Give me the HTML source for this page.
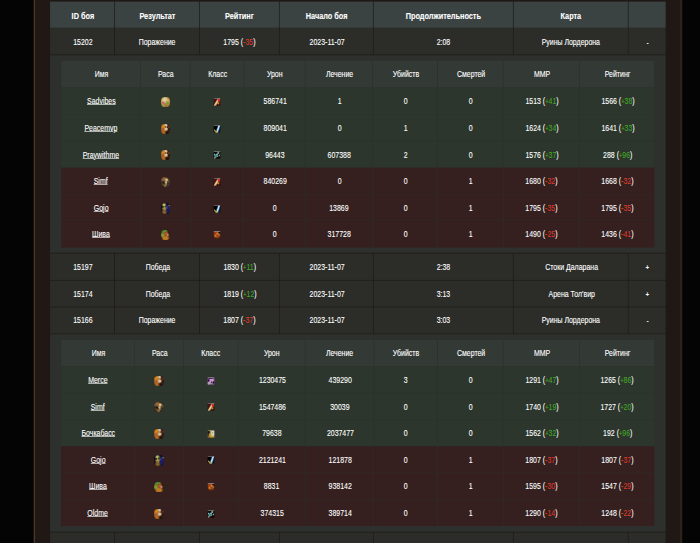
<!DOCTYPE html>
<html><head><meta charset="utf-8"><title>Arena</title><style>
html,body{margin:0;padding:0;background:#040404;}
body{width:700px;height:543px;overflow:hidden;position:relative;font-family:"Liberation Sans",sans-serif;font-size:8.2px;color:#fff;}
.bg{position:absolute;left:0;top:0;display:block}
.c{position:absolute;display:flex;align-items:center;justify-content:center;white-space:nowrap;overflow:visible;}
.t{display:inline-block;transform:translateX(0.5px) scaleX(0.85);line-height:10px;-webkit-text-stroke:0.1px currentColor;}
.t.b{font-weight:bold;transform:translateX(0.3px) scaleX(0.895);}

i{font-style:normal}
s{text-decoration:none;font-size:0.82em;position:relative;top:-0.2px}
s.pm{font-size:6.4px;top:-0.2px;font-weight:bold}
i.g{color:#44a628} i.r{color:#dc3c2a}
u{text-decoration:underline;text-underline-offset:0.35px;text-decoration-thickness:0.5px;text-decoration-color:rgba(255,255,255,.62)}
.ri{display:block;width:9.5px;height:10.2px;border-radius:3.6px;margin-top:2px;margin-left:0.4px;filter:saturate(.95) brightness(.9);}
.ci{display:block;width:8px;height:8px;border-radius:0.8px;margin-top:2px;transform:scale(.9,.95);filter:saturate(.95) brightness(.95);}
.be_f{background:radial-gradient(ellipse at 50% 50%,rgba(0,0,0,0) 60%,rgba(24,12,6,.45) 100%),
 radial-gradient(circle at 40% 26%,#f8e4b0 0 10%,rgba(248,228,176,0) 32%),
 radial-gradient(circle at 74% 62%,#86a838 0 8%,rgba(134,168,56,0) 24%),
 radial-gradient(circle at 60% 42%,#a4b84c 0 4%,rgba(164,184,76,0) 14%),
 radial-gradient(circle at 22% 88%,#98bc44 0 6%,rgba(152,188,68,0) 20%),
 radial-gradient(circle at 26% 10%,#c4c468 0 7%,rgba(196,196,104,0) 22%),
 radial-gradient(circle at 24% 58%,#dc7c68 0 8%,rgba(220,124,104,0) 24%),
 radial-gradient(circle at 48% 66%,#d88c64 0 6%,rgba(216,140,100,0) 20%),
 radial-gradient(circle at 50% 84%,#c47a48 0 10%,rgba(196,122,72,0) 30%),
 radial-gradient(circle at 45% 40%,#f0d080 0 28%,#d89c3c 62%,#9a6424 100%);}
.hu_f{background:radial-gradient(ellipse at 50% 50%,rgba(0,0,0,0) 60%,rgba(24,12,6,.45) 100%),
 radial-gradient(circle at 50% 30%,#5a2a1c 0 3%,rgba(90,42,28,0) 9%),
 radial-gradient(circle at 72% 34%,#4a2418 0 3%,rgba(74,36,24,0) 9%),
 radial-gradient(circle at 56% 50%,#f0d8a4 0 12%,rgba(240,216,164,0) 34%),
 radial-gradient(circle at 56% 12%,#e8dcc8 0 6%,rgba(232,220,200,0) 20%),
 radial-gradient(circle at 30% 46%,#c84838 0 3%,rgba(200,72,56,0) 9%),
 radial-gradient(circle at 24% 16%,#ec9420 0 14%,rgba(236,148,32,0) 38%),
 radial-gradient(circle at 95% 55%,#341a18 0 10%,rgba(52,26,24,0) 30%),
 radial-gradient(circle at 78% 12%,#4a1c14 0 7%,rgba(74,28,20,0) 20%),
 radial-gradient(circle at 72% 88%,#2a1610 0 10%,rgba(42,22,16,0) 30%),
 radial-gradient(circle at 32% 86%,#c87424 0 12%,rgba(200,116,36,0) 32%),
 radial-gradient(circle at 20% 55%,#b8642a 0 12%,rgba(184,100,42,0) 38%),
 #8a4c20;}
.ta{background:radial-gradient(ellipse at 50% 50%,rgba(0,0,0,0) 60%,rgba(24,12,6,.45) 100%),
 radial-gradient(circle at 62% 28%,#e0d4a8 0 8%,rgba(224,212,168,0) 22%),
 radial-gradient(circle at 55% 52%,#d4c494 0 8%,rgba(212,196,148,0) 24%),
 radial-gradient(circle at 58% 70%,#c8a878 0 4%,rgba(200,168,120,0) 14%),
 radial-gradient(circle at 6% 30%,#5a689c 0 3%,rgba(90,104,156,0) 12%),
 radial-gradient(circle at 32% 20%,#b06e2a 0 12%,rgba(176,110,42,0) 32%),
 radial-gradient(circle at 46% 88%,#a07848 0 6%,rgba(160,120,72,0) 18%),
 radial-gradient(circle at 84% 80%,#30466a 0 3%,rgba(48,70,106,0) 12%),
 radial-gradient(circle at 30% 55%,#2a1410 0 8%,rgba(42,20,16,0) 20%),
 radial-gradient(circle at 80% 40%,#6a5430 0 8%,rgba(106,84,48,0) 24%),
 radial-gradient(circle at 30% 70%,#6a5030 0 8%,rgba(106,80,48,0) 24%),
 #46341f;}
.tr{background:radial-gradient(ellipse at 50% 50%,rgba(0,0,0,0) 60%,rgba(24,12,6,.45) 100%),
 radial-gradient(circle at 20% 36%,#2a2410 0 4%,rgba(42,36,16,0) 12%),
 radial-gradient(circle at 46% 30%,#3a3414 0 3%,rgba(58,52,20,0) 10%),
 radial-gradient(circle at 30% 58%,#a04820 0 3%,rgba(160,72,32,0) 8%),
 radial-gradient(circle at 34% 18%,#cccc54 0 8%,rgba(204,204,84,0) 24%),
 radial-gradient(circle at 36% 50%,#b4a434 0 13%,rgba(180,164,52,0) 34%),
 radial-gradient(circle at 36% 84%,#946c1e 0 10%,rgba(148,108,30,0) 30%),
 radial-gradient(circle at 92% 24%,#8a9a30 0 3%,rgba(138,154,48,0) 10%),
 radial-gradient(circle at 66% 38%,#3c3c94 0 6%,rgba(60,60,148,0) 22%),
 radial-gradient(circle at 78% 55%,#1e1e6c 0 24%,rgba(30,30,108,0) 60%),
 #121234;}
.be_m{background:radial-gradient(ellipse at 50% 50%,rgba(0,0,0,0) 60%,rgba(24,12,6,.45) 100%),
 radial-gradient(circle at 75% 48%,#dc9a8a 0 6%,rgba(220,154,138,0) 16%),
 radial-gradient(circle at 58% 38%,#cc6228 0 12%,rgba(204,98,40,0) 32%),
 radial-gradient(circle at 52% 58%,#a02818 0 4%,rgba(160,40,24,0) 12%),
 radial-gradient(circle at 46% 24%,#3a3a14 0 3%,rgba(58,58,20,0) 9%),
 radial-gradient(circle at 35% 12%,#6a9830 0 16%,rgba(106,152,48,0) 40%),
 radial-gradient(circle at 18% 50%,#9ca830 0 12%,rgba(156,168,48,0) 34%),
 radial-gradient(circle at 50% 84%,#d88624 0 20%,rgba(216,134,36,0) 50%),
 #3a2414;}
.red{background:linear-gradient(#a8a0a8,#a8a0a8) 0 0/100% 0.7px no-repeat,
 radial-gradient(circle at 78% 26%,#e42a2a 0 10%,rgba(228,42,42,0) 25%),
 linear-gradient(122deg,rgba(0,0,0,0) 34%,#f6e2b4 46%,#e8c066 54%,rgba(0,0,0,0) 65%),
 radial-gradient(circle at 68% 66%,#c88a2a 0 7%,rgba(200,138,42,0) 22%),
 radial-gradient(circle at 50% 50%,#5a1410 0 40%,#240a06 100%);}
.swd{background:linear-gradient(#a0a6aa,#a0a6aa) 0 0/100% 0.7px no-repeat,
 radial-gradient(circle at 32% 84%,#d89c22 0 6%,rgba(216,156,34,0) 18%),
 radial-gradient(circle at 18% 66%,#a0b03c 0 4%,rgba(160,176,60,0) 13%),
 radial-gradient(circle at 58% 90%,#b0b838 0 4%,rgba(176,184,56,0) 13%),
 linear-gradient(110deg,rgba(0,0,0,0) 42%,#2a6aa8 50%,#d8ecfa 57%,#d8ecfa 64%,#2a6aa8 72%,rgba(0,0,0,0) 80%),
 linear-gradient(160deg,#000 0 45%,#0c1a2c 70%,#0a1420 100%);}
.gry{background:linear-gradient(#a4aca4,#a4aca4) 0 0/100% 0.8px no-repeat,
 radial-gradient(circle at 50% 45%,#4cc4cc 0 10%,rgba(76,196,204,0) 28%),
 radial-gradient(circle at 32% 68%,#44b0b8 0 9%,rgba(68,176,184,0) 24%),
 radial-gradient(circle at 18% 45%,#9cbcb0 0 6%,rgba(156,188,176,0) 18%),
 radial-gradient(circle at 60% 66%,#c49478 0 5%,rgba(196,148,120,0) 15%),
 radial-gradient(circle at 18% 90%,#c09078 0 5%,rgba(192,144,120,0) 16%),
 radial-gradient(circle at 84% 56%,#a8a890 0 5%,rgba(168,168,144,0) 16%),
 radial-gradient(circle at 68% 24%,#8ca8a0 0 7%,rgba(140,168,160,0) 20%),
 #0a0808;}
.org{background:linear-gradient(#c4bcbc,#c4bcbc) 0 0/100% 0.8px no-repeat,
 radial-gradient(circle at 25% 30%,#c83418 0 7%,rgba(200,52,24,0) 20%),
 radial-gradient(circle at 55% 58%,#c03018 0 6%,rgba(192,48,24,0) 18%),
 radial-gradient(circle at 55% 32%,#d48824 0 8%,rgba(212,136,36,0) 24%),
 radial-gradient(circle at 30% 62%,#cc8424 0 7%,rgba(204,132,36,0) 22%),
 radial-gradient(circle at 80% 48%,#b86420 0 8%,rgba(184,100,32,0) 24%),
 radial-gradient(circle at 88% 18%,#101008 0 8%,rgba(16,16,8,0) 20%),
 radial-gradient(circle at 50% 42%,#a84c18 0 40%,#3a1208 92%);}
.pur{background:linear-gradient(#8c9c8c,#8c9c8c) 0 0/100% 0.8px no-repeat,
 radial-gradient(circle at 86% 70%,#2c0c34 0 8%,rgba(44,12,52,0) 20%),
 radial-gradient(circle at 58% 66%,#4a2a50 0 6%,rgba(74,42,80,0) 16%),
 linear-gradient(172deg,rgba(0,0,0,0) 12%,#4a1858 20%,rgba(0,0,0,0) 30%),
 radial-gradient(circle at 14% 42%,#3c1248 0 9%,rgba(60,18,72,0) 24%),
 radial-gradient(circle at 14% 84%,#aabcaa 0 9%,rgba(170,188,170,0) 24%),
 radial-gradient(circle at 50% 45%,#d4a0dc 0 30%,#a868b4 70%,#8a5094 100%);}
.tan{background:linear-gradient(#b0b0a0,#b0b0a0) 0 0/100% 0.7px no-repeat,
 radial-gradient(circle at 16% 26%,#1c1a14 0 9%,rgba(28,26,20,0) 26%),
 radial-gradient(circle at 76% 36%,#6a8a4a 0 4%,rgba(106,138,74,0) 11%),
 linear-gradient(90deg,#3a3424 0 14%,#cca02a 30% 46%,#dcdcd0 60% 92%,#b0b0a0 100%) 0 0/100% 72% no-repeat,
 linear-gradient(90deg,#8a6a3a 0 20%,#d8a42c 40% 100%);}

</style></head>
<body><svg class="bg" width="700" height="543" viewBox="0 0 700 543">
<rect x="33.7" y="0" width="648.4" height="543" fill="#4a382b"/>
<rect x="680.2" y="0" width="1.9" height="543" fill="#2f231c"/>
<rect x="35.1" y="0" width="645.2" height="543" fill="#201814"/>
<rect x="49.7" y="1.6" width="616.3" height="545" fill="#1f1916"/>
<rect x="50.03" y="1.60" width="64.23" height="26.25" fill="#3a4341"/>
<rect x="114.93" y="1.60" width="84.13" height="26.25" fill="#3a4341"/>
<rect x="199.73" y="1.60" width="79.23" height="26.25" fill="#3a4341"/>
<rect x="279.63" y="1.60" width="93.33" height="26.25" fill="#3a4341"/>
<rect x="373.63" y="1.60" width="139.33" height="26.25" fill="#3a4341"/>
<rect x="513.63" y="1.60" width="114.23" height="26.25" fill="#3a4341"/>
<rect x="628.53" y="1.60" width="37.13" height="26.25" fill="#3a4341"/>
<rect x="50.03" y="27.85" width="64.23" height="26.70" fill="#2c2d29"/>
<rect x="114.93" y="27.85" width="84.13" height="26.70" fill="#2c2d29"/>
<rect x="199.73" y="27.85" width="79.23" height="26.70" fill="#2c2d29"/>
<rect x="279.63" y="27.85" width="93.33" height="26.70" fill="#2c2d29"/>
<rect x="373.63" y="27.85" width="139.33" height="26.70" fill="#2c2d29"/>
<rect x="513.63" y="27.85" width="114.23" height="26.70" fill="#2c2d29"/>
<rect x="628.53" y="27.85" width="37.13" height="26.70" fill="#2c2d29"/>
<rect x="50.03" y="55.25" width="615.63" height="197.55" fill="#2d302c"/>
<rect x="61.30" y="61.00" width="78.70" height="26.47" fill="#333935"/>
<rect x="140.60" y="61.00" width="49.30" height="26.47" fill="#333935"/>
<rect x="190.50" y="61.00" width="53.00" height="26.47" fill="#333935"/>
<rect x="244.10" y="61.00" width="60.80" height="26.47" fill="#333935"/>
<rect x="305.50" y="61.00" width="66.80" height="26.47" fill="#333935"/>
<rect x="372.90" y="61.00" width="64.40" height="26.47" fill="#333935"/>
<rect x="437.90" y="61.00" width="65.00" height="26.47" fill="#333935"/>
<rect x="503.50" y="61.00" width="75.70" height="26.47" fill="#333935"/>
<rect x="579.80" y="61.00" width="74.50" height="26.47" fill="#333935"/>
<rect x="61.30" y="87.81" width="78.70" height="26.30" fill="#2c362c"/>
<rect x="140.60" y="87.81" width="49.30" height="26.30" fill="#2c362c"/>
<rect x="190.50" y="87.81" width="53.00" height="26.30" fill="#2c362c"/>
<rect x="244.10" y="87.81" width="60.80" height="26.30" fill="#2c362c"/>
<rect x="305.50" y="87.81" width="66.80" height="26.30" fill="#2c362c"/>
<rect x="372.90" y="87.81" width="64.40" height="26.30" fill="#2c362c"/>
<rect x="437.90" y="87.81" width="65.00" height="26.30" fill="#2c362c"/>
<rect x="503.50" y="87.81" width="75.70" height="26.30" fill="#2c362c"/>
<rect x="579.80" y="87.81" width="74.50" height="26.30" fill="#2c362c"/>
<rect x="61.30" y="114.46" width="78.70" height="26.30" fill="#2c362c"/>
<rect x="140.60" y="114.46" width="49.30" height="26.30" fill="#2c362c"/>
<rect x="190.50" y="114.46" width="53.00" height="26.30" fill="#2c362c"/>
<rect x="244.10" y="114.46" width="60.80" height="26.30" fill="#2c362c"/>
<rect x="305.50" y="114.46" width="66.80" height="26.30" fill="#2c362c"/>
<rect x="372.90" y="114.46" width="64.40" height="26.30" fill="#2c362c"/>
<rect x="437.90" y="114.46" width="65.00" height="26.30" fill="#2c362c"/>
<rect x="503.50" y="114.46" width="75.70" height="26.30" fill="#2c362c"/>
<rect x="579.80" y="114.46" width="74.50" height="26.30" fill="#2c362c"/>
<rect x="61.30" y="141.10" width="78.70" height="26.30" fill="#2c362c"/>
<rect x="140.60" y="141.10" width="49.30" height="26.30" fill="#2c362c"/>
<rect x="190.50" y="141.10" width="53.00" height="26.30" fill="#2c362c"/>
<rect x="244.10" y="141.10" width="60.80" height="26.30" fill="#2c362c"/>
<rect x="305.50" y="141.10" width="66.80" height="26.30" fill="#2c362c"/>
<rect x="372.90" y="141.10" width="64.40" height="26.30" fill="#2c362c"/>
<rect x="437.90" y="141.10" width="65.00" height="26.30" fill="#2c362c"/>
<rect x="503.50" y="141.10" width="75.70" height="26.30" fill="#2c362c"/>
<rect x="579.80" y="141.10" width="74.50" height="26.30" fill="#2c362c"/>
<rect x="61.30" y="167.74" width="78.70" height="26.30" fill="#351f1f"/>
<rect x="140.60" y="167.74" width="49.30" height="26.30" fill="#351f1f"/>
<rect x="190.50" y="167.74" width="53.00" height="26.30" fill="#351f1f"/>
<rect x="244.10" y="167.74" width="60.80" height="26.30" fill="#351f1f"/>
<rect x="305.50" y="167.74" width="66.80" height="26.30" fill="#351f1f"/>
<rect x="372.90" y="167.74" width="64.40" height="26.30" fill="#351f1f"/>
<rect x="437.90" y="167.74" width="65.00" height="26.30" fill="#351f1f"/>
<rect x="503.50" y="167.74" width="75.70" height="26.30" fill="#351f1f"/>
<rect x="579.80" y="167.74" width="74.50" height="26.30" fill="#351f1f"/>
<rect x="61.30" y="194.38" width="78.70" height="26.30" fill="#351f1f"/>
<rect x="140.60" y="194.38" width="49.30" height="26.30" fill="#351f1f"/>
<rect x="190.50" y="194.38" width="53.00" height="26.30" fill="#351f1f"/>
<rect x="244.10" y="194.38" width="60.80" height="26.30" fill="#351f1f"/>
<rect x="305.50" y="194.38" width="66.80" height="26.30" fill="#351f1f"/>
<rect x="372.90" y="194.38" width="64.40" height="26.30" fill="#351f1f"/>
<rect x="437.90" y="194.38" width="65.00" height="26.30" fill="#351f1f"/>
<rect x="503.50" y="194.38" width="75.70" height="26.30" fill="#351f1f"/>
<rect x="579.80" y="194.38" width="74.50" height="26.30" fill="#351f1f"/>
<rect x="61.30" y="221.03" width="78.70" height="26.47" fill="#351f1f"/>
<rect x="140.60" y="221.03" width="49.30" height="26.47" fill="#351f1f"/>
<rect x="190.50" y="221.03" width="53.00" height="26.47" fill="#351f1f"/>
<rect x="244.10" y="221.03" width="60.80" height="26.47" fill="#351f1f"/>
<rect x="305.50" y="221.03" width="66.80" height="26.47" fill="#351f1f"/>
<rect x="372.90" y="221.03" width="64.40" height="26.47" fill="#351f1f"/>
<rect x="437.90" y="221.03" width="65.00" height="26.47" fill="#351f1f"/>
<rect x="503.50" y="221.03" width="75.70" height="26.47" fill="#351f1f"/>
<rect x="579.80" y="221.03" width="74.50" height="26.47" fill="#351f1f"/>
<rect x="50.03" y="253.50" width="64.23" height="26.40" fill="#2c2d29"/>
<rect x="114.93" y="253.50" width="84.13" height="26.40" fill="#2c2d29"/>
<rect x="199.73" y="253.50" width="79.23" height="26.40" fill="#2c2d29"/>
<rect x="279.63" y="253.50" width="93.33" height="26.40" fill="#2c2d29"/>
<rect x="373.63" y="253.50" width="139.33" height="26.40" fill="#2c2d29"/>
<rect x="513.63" y="253.50" width="114.23" height="26.40" fill="#2c2d29"/>
<rect x="628.53" y="253.50" width="37.13" height="26.40" fill="#2c2d29"/>
<rect x="50.03" y="280.60" width="64.23" height="26.00" fill="#2c2d29"/>
<rect x="114.93" y="280.60" width="84.13" height="26.00" fill="#2c2d29"/>
<rect x="199.73" y="280.60" width="79.23" height="26.00" fill="#2c2d29"/>
<rect x="279.63" y="280.60" width="93.33" height="26.00" fill="#2c2d29"/>
<rect x="373.63" y="280.60" width="139.33" height="26.00" fill="#2c2d29"/>
<rect x="513.63" y="280.60" width="114.23" height="26.00" fill="#2c2d29"/>
<rect x="628.53" y="280.60" width="37.13" height="26.00" fill="#2c2d29"/>
<rect x="50.03" y="307.30" width="64.23" height="26.20" fill="#2c2d29"/>
<rect x="114.93" y="307.30" width="84.13" height="26.20" fill="#2c2d29"/>
<rect x="199.73" y="307.30" width="79.23" height="26.20" fill="#2c2d29"/>
<rect x="279.63" y="307.30" width="93.33" height="26.20" fill="#2c2d29"/>
<rect x="373.63" y="307.30" width="139.33" height="26.20" fill="#2c2d29"/>
<rect x="513.63" y="307.30" width="114.23" height="26.20" fill="#2c2d29"/>
<rect x="628.53" y="307.30" width="37.13" height="26.20" fill="#2c2d29"/>
<rect x="50.03" y="334.20" width="615.63" height="197.55" fill="#2d302c"/>
<rect x="61.10" y="339.75" width="72.90" height="26.44" fill="#333935"/>
<rect x="134.60" y="339.75" width="48.40" height="26.44" fill="#333935"/>
<rect x="183.60" y="339.75" width="54.10" height="26.44" fill="#333935"/>
<rect x="238.30" y="339.75" width="66.60" height="26.44" fill="#333935"/>
<rect x="305.50" y="339.75" width="68.00" height="26.44" fill="#333935"/>
<rect x="374.10" y="339.75" width="63.20" height="26.44" fill="#333935"/>
<rect x="437.90" y="339.75" width="65.00" height="26.44" fill="#333935"/>
<rect x="503.50" y="339.75" width="75.50" height="26.44" fill="#333935"/>
<rect x="579.60" y="339.75" width="74.70" height="26.44" fill="#333935"/>
<rect x="61.10" y="366.53" width="72.90" height="26.27" fill="#2c362c"/>
<rect x="134.60" y="366.53" width="48.40" height="26.27" fill="#2c362c"/>
<rect x="183.60" y="366.53" width="54.10" height="26.27" fill="#2c362c"/>
<rect x="238.30" y="366.53" width="66.60" height="26.27" fill="#2c362c"/>
<rect x="305.50" y="366.53" width="68.00" height="26.27" fill="#2c362c"/>
<rect x="374.10" y="366.53" width="63.20" height="26.27" fill="#2c362c"/>
<rect x="437.90" y="366.53" width="65.00" height="26.27" fill="#2c362c"/>
<rect x="503.50" y="366.53" width="75.50" height="26.27" fill="#2c362c"/>
<rect x="579.60" y="366.53" width="74.70" height="26.27" fill="#2c362c"/>
<rect x="61.10" y="393.13" width="72.90" height="26.27" fill="#2c362c"/>
<rect x="134.60" y="393.13" width="48.40" height="26.27" fill="#2c362c"/>
<rect x="183.60" y="393.13" width="54.10" height="26.27" fill="#2c362c"/>
<rect x="238.30" y="393.13" width="66.60" height="26.27" fill="#2c362c"/>
<rect x="305.50" y="393.13" width="68.00" height="26.27" fill="#2c362c"/>
<rect x="374.10" y="393.13" width="63.20" height="26.27" fill="#2c362c"/>
<rect x="437.90" y="393.13" width="65.00" height="26.27" fill="#2c362c"/>
<rect x="503.50" y="393.13" width="75.50" height="26.27" fill="#2c362c"/>
<rect x="579.60" y="393.13" width="74.70" height="26.27" fill="#2c362c"/>
<rect x="61.10" y="419.74" width="72.90" height="26.27" fill="#2c362c"/>
<rect x="134.60" y="419.74" width="48.40" height="26.27" fill="#2c362c"/>
<rect x="183.60" y="419.74" width="54.10" height="26.27" fill="#2c362c"/>
<rect x="238.30" y="419.74" width="66.60" height="26.27" fill="#2c362c"/>
<rect x="305.50" y="419.74" width="68.00" height="26.27" fill="#2c362c"/>
<rect x="374.10" y="419.74" width="63.20" height="26.27" fill="#2c362c"/>
<rect x="437.90" y="419.74" width="65.00" height="26.27" fill="#2c362c"/>
<rect x="503.50" y="419.74" width="75.50" height="26.27" fill="#2c362c"/>
<rect x="579.60" y="419.74" width="74.70" height="26.27" fill="#2c362c"/>
<rect x="61.10" y="446.35" width="72.90" height="26.27" fill="#351f1f"/>
<rect x="134.60" y="446.35" width="48.40" height="26.27" fill="#351f1f"/>
<rect x="183.60" y="446.35" width="54.10" height="26.27" fill="#351f1f"/>
<rect x="238.30" y="446.35" width="66.60" height="26.27" fill="#351f1f"/>
<rect x="305.50" y="446.35" width="68.00" height="26.27" fill="#351f1f"/>
<rect x="374.10" y="446.35" width="63.20" height="26.27" fill="#351f1f"/>
<rect x="437.90" y="446.35" width="65.00" height="26.27" fill="#351f1f"/>
<rect x="503.50" y="446.35" width="75.50" height="26.27" fill="#351f1f"/>
<rect x="579.60" y="446.35" width="74.70" height="26.27" fill="#351f1f"/>
<rect x="61.10" y="472.96" width="72.90" height="26.27" fill="#351f1f"/>
<rect x="134.60" y="472.96" width="48.40" height="26.27" fill="#351f1f"/>
<rect x="183.60" y="472.96" width="54.10" height="26.27" fill="#351f1f"/>
<rect x="238.30" y="472.96" width="66.60" height="26.27" fill="#351f1f"/>
<rect x="305.50" y="472.96" width="68.00" height="26.27" fill="#351f1f"/>
<rect x="374.10" y="472.96" width="63.20" height="26.27" fill="#351f1f"/>
<rect x="437.90" y="472.96" width="65.00" height="26.27" fill="#351f1f"/>
<rect x="503.50" y="472.96" width="75.50" height="26.27" fill="#351f1f"/>
<rect x="579.60" y="472.96" width="74.70" height="26.27" fill="#351f1f"/>
<rect x="61.10" y="499.56" width="72.90" height="26.44" fill="#351f1f"/>
<rect x="134.60" y="499.56" width="48.40" height="26.44" fill="#351f1f"/>
<rect x="183.60" y="499.56" width="54.10" height="26.44" fill="#351f1f"/>
<rect x="238.30" y="499.56" width="66.60" height="26.44" fill="#351f1f"/>
<rect x="305.50" y="499.56" width="68.00" height="26.44" fill="#351f1f"/>
<rect x="374.10" y="499.56" width="63.20" height="26.44" fill="#351f1f"/>
<rect x="437.90" y="499.56" width="65.00" height="26.44" fill="#351f1f"/>
<rect x="503.50" y="499.56" width="75.50" height="26.44" fill="#351f1f"/>
<rect x="579.60" y="499.56" width="74.70" height="26.44" fill="#351f1f"/>
<rect x="50.03" y="532.45" width="64.23" height="27.55" fill="#2c2d29"/>
<rect x="114.93" y="532.45" width="84.13" height="27.55" fill="#2c2d29"/>
<rect x="199.73" y="532.45" width="79.23" height="27.55" fill="#2c2d29"/>
<rect x="279.63" y="532.45" width="93.33" height="27.55" fill="#2c2d29"/>
<rect x="373.63" y="532.45" width="139.33" height="27.55" fill="#2c2d29"/>
<rect x="513.63" y="532.45" width="114.23" height="27.55" fill="#2c2d29"/>
<rect x="628.53" y="532.45" width="37.13" height="27.55" fill="#2c2d29"/>
</svg>
<div class="c" style="left:49.70px;top:12px;width:64.90px;height:10px"><span class="t b">ID боя</span></div>
<div class="c" style="left:114.60px;top:12px;width:84.80px;height:10px"><span class="t b">Результат</span></div>
<div class="c" style="left:199.40px;top:12px;width:79.90px;height:10px"><span class="t b">Рейтинг</span></div>
<div class="c" style="left:279.30px;top:12px;width:94.00px;height:10px"><span class="t b">Начало боя</span></div>
<div class="c" style="left:373.30px;top:12px;width:140.00px;height:10px"><span class="t b">Продолжительность</span></div>
<div class="c" style="left:513.30px;top:12px;width:114.90px;height:10px"><span class="t b">Карта</span></div>
<div class="c" style="left:49.70px;top:38px;width:64.90px;height:10px"><span class="t">15202</span></div>
<div class="c" style="left:114.60px;top:38px;width:84.80px;height:10px"><span class="t">Поражение</span></div>
<div class="c" style="left:199.40px;top:38px;width:79.90px;height:10px"><span class="t">1795 (<i class="r">-35</i>)</span></div>
<div class="c" style="left:279.30px;top:38px;width:94.00px;height:10px"><span class="t">2023-11-07</span></div>
<div class="c" style="left:373.30px;top:38px;width:140.00px;height:10px"><span class="t">2:08</span></div>
<div class="c" style="left:513.30px;top:38px;width:114.90px;height:10px"><span class="t">Руины Лордерона</span></div>
<div class="c" style="left:628.20px;top:38px;width:37.80px;height:10px"><span class="t"><s class="pm">-</s></span></div>
<div class="c" style="left:61.00px;top:70px;width:79.30px;height:10px"><span class="t">Имя</span></div>
<div class="c" style="left:140.30px;top:70px;width:49.90px;height:10px"><span class="t">Раса</span></div>
<div class="c" style="left:190.20px;top:70px;width:53.60px;height:10px"><span class="t">Класс</span></div>
<div class="c" style="left:243.80px;top:70px;width:61.40px;height:10px"><span class="t">Урон</span></div>
<div class="c" style="left:305.20px;top:70px;width:67.40px;height:10px"><span class="t">Лечение</span></div>
<div class="c" style="left:372.60px;top:70px;width:65.00px;height:10px"><span class="t">Убийств</span></div>
<div class="c" style="left:437.60px;top:70px;width:65.60px;height:10px"><span class="t">Смертей</span></div>
<div class="c" style="left:503.20px;top:70px;width:76.30px;height:10px"><span class="t">MMP</span></div>
<div class="c" style="left:579.50px;top:70px;width:75.10px;height:10px"><span class="t">Рейтинг</span></div>
<div class="c" style="left:61.00px;top:97px;width:79.30px;height:10px"><span class="t"><u>Sadvibes</u></span></div>
<div class="c" style="left:140.30px;top:87.81px;width:49.90px;height:26.30px"><b class="ri be_f"></b></div>
<div class="c" style="left:190.20px;top:87.81px;width:53.60px;height:26.30px"><b class="ci red"></b></div>
<div class="c" style="left:243.80px;top:97px;width:61.40px;height:10px"><span class="t">586741</span></div>
<div class="c" style="left:305.20px;top:97px;width:67.40px;height:10px"><span class="t">1</span></div>
<div class="c" style="left:372.60px;top:97px;width:65.00px;height:10px"><span class="t">0</span></div>
<div class="c" style="left:437.60px;top:97px;width:65.60px;height:10px"><span class="t">0</span></div>
<div class="c" style="left:503.20px;top:97px;width:76.30px;height:10px"><span class="t">1513 (<i class="g"><s>+</s>41</i>)</span></div>
<div class="c" style="left:579.50px;top:97px;width:75.10px;height:10px"><span class="t">1566 (<i class="g"><s>+</s>38</i>)</span></div>
<div class="c" style="left:61.00px;top:124px;width:79.30px;height:10px"><span class="t"><u>Peacemvp</u></span></div>
<div class="c" style="left:140.30px;top:114.46px;width:49.90px;height:26.30px"><b class="ri hu_f"></b></div>
<div class="c" style="left:190.20px;top:114.46px;width:53.60px;height:26.30px"><b class="ci swd"></b></div>
<div class="c" style="left:243.80px;top:124px;width:61.40px;height:10px"><span class="t">809041</span></div>
<div class="c" style="left:305.20px;top:124px;width:67.40px;height:10px"><span class="t">0</span></div>
<div class="c" style="left:372.60px;top:124px;width:65.00px;height:10px"><span class="t">1</span></div>
<div class="c" style="left:437.60px;top:124px;width:65.60px;height:10px"><span class="t">0</span></div>
<div class="c" style="left:503.20px;top:124px;width:76.30px;height:10px"><span class="t">1624 (<i class="g"><s>+</s>34</i>)</span></div>
<div class="c" style="left:579.50px;top:124px;width:75.10px;height:10px"><span class="t">1641 (<i class="g"><s>+</s>33</i>)</span></div>
<div class="c" style="left:61.00px;top:151px;width:79.30px;height:10px"><span class="t"><u>Praywithme</u></span></div>
<div class="c" style="left:140.30px;top:141.10px;width:49.90px;height:26.30px"><b class="ri hu_f"></b></div>
<div class="c" style="left:190.20px;top:141.10px;width:53.60px;height:26.30px"><b class="ci gry"></b></div>
<div class="c" style="left:243.80px;top:151px;width:61.40px;height:10px"><span class="t">96443</span></div>
<div class="c" style="left:305.20px;top:151px;width:67.40px;height:10px"><span class="t">607388</span></div>
<div class="c" style="left:372.60px;top:151px;width:65.00px;height:10px"><span class="t">2</span></div>
<div class="c" style="left:437.60px;top:151px;width:65.60px;height:10px"><span class="t">0</span></div>
<div class="c" style="left:503.20px;top:151px;width:76.30px;height:10px"><span class="t">1576 (<i class="g"><s>+</s>37</i>)</span></div>
<div class="c" style="left:579.50px;top:151px;width:75.10px;height:10px"><span class="t">288 (<i class="g"><s>+</s>96</i>)</span></div>
<div class="c" style="left:61.00px;top:177px;width:79.30px;height:10px"><span class="t"><u>Simf</u></span></div>
<div class="c" style="left:140.30px;top:167.74px;width:49.90px;height:26.30px"><b class="ri ta"></b></div>
<div class="c" style="left:190.20px;top:167.74px;width:53.60px;height:26.30px"><b class="ci red"></b></div>
<div class="c" style="left:243.80px;top:177px;width:61.40px;height:10px"><span class="t">840269</span></div>
<div class="c" style="left:305.20px;top:177px;width:67.40px;height:10px"><span class="t">0</span></div>
<div class="c" style="left:372.60px;top:177px;width:65.00px;height:10px"><span class="t">0</span></div>
<div class="c" style="left:437.60px;top:177px;width:65.60px;height:10px"><span class="t">1</span></div>
<div class="c" style="left:503.20px;top:177px;width:76.30px;height:10px"><span class="t">1680 (<i class="r">-32</i>)</span></div>
<div class="c" style="left:579.50px;top:177px;width:75.10px;height:10px"><span class="t">1668 (<i class="r">-32</i>)</span></div>
<div class="c" style="left:61.00px;top:204px;width:79.30px;height:10px"><span class="t"><u>Gojo</u></span></div>
<div class="c" style="left:140.30px;top:194.38px;width:49.90px;height:26.30px"><b class="ri tr"></b></div>
<div class="c" style="left:190.20px;top:194.38px;width:53.60px;height:26.30px"><b class="ci swd"></b></div>
<div class="c" style="left:243.80px;top:204px;width:61.40px;height:10px"><span class="t">0</span></div>
<div class="c" style="left:305.20px;top:204px;width:67.40px;height:10px"><span class="t">13869</span></div>
<div class="c" style="left:372.60px;top:204px;width:65.00px;height:10px"><span class="t">0</span></div>
<div class="c" style="left:437.60px;top:204px;width:65.60px;height:10px"><span class="t">1</span></div>
<div class="c" style="left:503.20px;top:204px;width:76.30px;height:10px"><span class="t">1795 (<i class="r">-35</i>)</span></div>
<div class="c" style="left:579.50px;top:204px;width:75.10px;height:10px"><span class="t">1795 (<i class="r">-35</i>)</span></div>
<div class="c" style="left:61.00px;top:230px;width:79.30px;height:10px"><span class="t"><u>Шива</u></span></div>
<div class="c" style="left:140.30px;top:221.03px;width:49.90px;height:26.47px"><b class="ri be_m"></b></div>
<div class="c" style="left:190.20px;top:221.03px;width:53.60px;height:26.47px"><b class="ci org"></b></div>
<div class="c" style="left:243.80px;top:230px;width:61.40px;height:10px"><span class="t">0</span></div>
<div class="c" style="left:305.20px;top:230px;width:67.40px;height:10px"><span class="t">317728</span></div>
<div class="c" style="left:372.60px;top:230px;width:65.00px;height:10px"><span class="t">0</span></div>
<div class="c" style="left:437.60px;top:230px;width:65.60px;height:10px"><span class="t">1</span></div>
<div class="c" style="left:503.20px;top:230px;width:76.30px;height:10px"><span class="t">1490 (<i class="r">-25</i>)</span></div>
<div class="c" style="left:579.50px;top:230px;width:75.10px;height:10px"><span class="t">1436 (<i class="r">-41</i>)</span></div>
<div class="c" style="left:49.70px;top:263px;width:64.90px;height:10px"><span class="t">15197</span></div>
<div class="c" style="left:114.60px;top:263px;width:84.80px;height:10px"><span class="t">Победа</span></div>
<div class="c" style="left:199.40px;top:263px;width:79.90px;height:10px"><span class="t">1830 (<i class="g"><s>+</s>11</i>)</span></div>
<div class="c" style="left:279.30px;top:263px;width:94.00px;height:10px"><span class="t">2023-11-07</span></div>
<div class="c" style="left:373.30px;top:263px;width:140.00px;height:10px"><span class="t">2:38</span></div>
<div class="c" style="left:513.30px;top:263px;width:114.90px;height:10px"><span class="t">Стоки Даларана</span></div>
<div class="c" style="left:628.20px;top:263px;width:37.80px;height:10px"><span class="t"><s class="pm">+</s></span></div>
<div class="c" style="left:49.70px;top:290px;width:64.90px;height:10px"><span class="t">15174</span></div>
<div class="c" style="left:114.60px;top:290px;width:84.80px;height:10px"><span class="t">Победа</span></div>
<div class="c" style="left:199.40px;top:290px;width:79.90px;height:10px"><span class="t">1819 (<i class="g"><s>+</s>12</i>)</span></div>
<div class="c" style="left:279.30px;top:290px;width:94.00px;height:10px"><span class="t">2023-11-07</span></div>
<div class="c" style="left:373.30px;top:290px;width:140.00px;height:10px"><span class="t">3:13</span></div>
<div class="c" style="left:513.30px;top:290px;width:114.90px;height:10px"><span class="t">Арена Тол'вир</span></div>
<div class="c" style="left:628.20px;top:290px;width:37.80px;height:10px"><span class="t"><s class="pm">+</s></span></div>
<div class="c" style="left:49.70px;top:316px;width:64.90px;height:10px"><span class="t">15166</span></div>
<div class="c" style="left:114.60px;top:316px;width:84.80px;height:10px"><span class="t">Поражение</span></div>
<div class="c" style="left:199.40px;top:316px;width:79.90px;height:10px"><span class="t">1807 (<i class="r">-37</i>)</span></div>
<div class="c" style="left:279.30px;top:316px;width:94.00px;height:10px"><span class="t">2023-11-07</span></div>
<div class="c" style="left:373.30px;top:316px;width:140.00px;height:10px"><span class="t">3:03</span></div>
<div class="c" style="left:513.30px;top:316px;width:114.90px;height:10px"><span class="t">Руины Лордерона</span></div>
<div class="c" style="left:628.20px;top:316px;width:37.80px;height:10px"><span class="t"><s class="pm">-</s></span></div>
<div class="c" style="left:60.80px;top:349px;width:73.50px;height:10px"><span class="t">Имя</span></div>
<div class="c" style="left:134.30px;top:349px;width:49.00px;height:10px"><span class="t">Раса</span></div>
<div class="c" style="left:183.30px;top:349px;width:54.70px;height:10px"><span class="t">Класс</span></div>
<div class="c" style="left:238.00px;top:349px;width:67.20px;height:10px"><span class="t">Урон</span></div>
<div class="c" style="left:305.20px;top:349px;width:68.60px;height:10px"><span class="t">Лечение</span></div>
<div class="c" style="left:373.80px;top:349px;width:63.80px;height:10px"><span class="t">Убийств</span></div>
<div class="c" style="left:437.60px;top:349px;width:65.60px;height:10px"><span class="t">Смертей</span></div>
<div class="c" style="left:503.20px;top:349px;width:76.10px;height:10px"><span class="t">MMP</span></div>
<div class="c" style="left:579.30px;top:349px;width:75.30px;height:10px"><span class="t">Рейтинг</span></div>
<div class="c" style="left:60.80px;top:376px;width:73.50px;height:10px"><span class="t"><u>Merce</u></span></div>
<div class="c" style="left:134.30px;top:366.53px;width:49.00px;height:26.27px"><b class="ri hu_f"></b></div>
<div class="c" style="left:183.30px;top:366.53px;width:54.70px;height:26.27px"><b class="ci pur"></b></div>
<div class="c" style="left:238.00px;top:376px;width:67.20px;height:10px"><span class="t">1230475</span></div>
<div class="c" style="left:305.20px;top:376px;width:68.60px;height:10px"><span class="t">439290</span></div>
<div class="c" style="left:373.80px;top:376px;width:63.80px;height:10px"><span class="t">3</span></div>
<div class="c" style="left:437.60px;top:376px;width:65.60px;height:10px"><span class="t">0</span></div>
<div class="c" style="left:503.20px;top:376px;width:76.10px;height:10px"><span class="t">1291 (<i class="g"><s>+</s>47</i>)</span></div>
<div class="c" style="left:579.30px;top:376px;width:75.30px;height:10px"><span class="t">1265 (<i class="g"><s>+</s>86</i>)</span></div>
<div class="c" style="left:60.80px;top:403px;width:73.50px;height:10px"><span class="t"><u>Simf</u></span></div>
<div class="c" style="left:134.30px;top:393.13px;width:49.00px;height:26.27px"><b class="ri ta"></b></div>
<div class="c" style="left:183.30px;top:393.13px;width:54.70px;height:26.27px"><b class="ci red"></b></div>
<div class="c" style="left:238.00px;top:403px;width:67.20px;height:10px"><span class="t">1547486</span></div>
<div class="c" style="left:305.20px;top:403px;width:68.60px;height:10px"><span class="t">30039</span></div>
<div class="c" style="left:373.80px;top:403px;width:63.80px;height:10px"><span class="t">0</span></div>
<div class="c" style="left:437.60px;top:403px;width:65.60px;height:10px"><span class="t">0</span></div>
<div class="c" style="left:503.20px;top:403px;width:76.10px;height:10px"><span class="t">1740 (<i class="g"><s>+</s>19</i>)</span></div>
<div class="c" style="left:579.30px;top:403px;width:75.30px;height:10px"><span class="t">1727 (<i class="g"><s>+</s>20</i>)</span></div>
<div class="c" style="left:60.80px;top:429px;width:73.50px;height:10px"><span class="t"><u>Бочкабасс</u></span></div>
<div class="c" style="left:134.30px;top:419.74px;width:49.00px;height:26.27px"><b class="ri hu_f"></b></div>
<div class="c" style="left:183.30px;top:419.74px;width:54.70px;height:26.27px"><b class="ci tan"></b></div>
<div class="c" style="left:238.00px;top:429px;width:67.20px;height:10px"><span class="t">79638</span></div>
<div class="c" style="left:305.20px;top:429px;width:68.60px;height:10px"><span class="t">2037477</span></div>
<div class="c" style="left:373.80px;top:429px;width:63.80px;height:10px"><span class="t">0</span></div>
<div class="c" style="left:437.60px;top:429px;width:65.60px;height:10px"><span class="t">0</span></div>
<div class="c" style="left:503.20px;top:429px;width:76.10px;height:10px"><span class="t">1562 (<i class="g"><s>+</s>32</i>)</span></div>
<div class="c" style="left:579.30px;top:429px;width:75.30px;height:10px"><span class="t">192 (<i class="g"><s>+</s>96</i>)</span></div>
<div class="c" style="left:60.80px;top:456px;width:73.50px;height:10px"><span class="t"><u>Gojo</u></span></div>
<div class="c" style="left:134.30px;top:446.35px;width:49.00px;height:26.27px"><b class="ri tr"></b></div>
<div class="c" style="left:183.30px;top:446.35px;width:54.70px;height:26.27px"><b class="ci swd"></b></div>
<div class="c" style="left:238.00px;top:456px;width:67.20px;height:10px"><span class="t">2121241</span></div>
<div class="c" style="left:305.20px;top:456px;width:68.60px;height:10px"><span class="t">121878</span></div>
<div class="c" style="left:373.80px;top:456px;width:63.80px;height:10px"><span class="t">0</span></div>
<div class="c" style="left:437.60px;top:456px;width:65.60px;height:10px"><span class="t">1</span></div>
<div class="c" style="left:503.20px;top:456px;width:76.10px;height:10px"><span class="t">1807 (<i class="r">-37</i>)</span></div>
<div class="c" style="left:579.30px;top:456px;width:75.30px;height:10px"><span class="t">1807 (<i class="r">-37</i>)</span></div>
<div class="c" style="left:60.80px;top:482px;width:73.50px;height:10px"><span class="t"><u>Шива</u></span></div>
<div class="c" style="left:134.30px;top:472.96px;width:49.00px;height:26.27px"><b class="ri be_m"></b></div>
<div class="c" style="left:183.30px;top:472.96px;width:54.70px;height:26.27px"><b class="ci org"></b></div>
<div class="c" style="left:238.00px;top:482px;width:67.20px;height:10px"><span class="t">8831</span></div>
<div class="c" style="left:305.20px;top:482px;width:68.60px;height:10px"><span class="t">938142</span></div>
<div class="c" style="left:373.80px;top:482px;width:63.80px;height:10px"><span class="t">0</span></div>
<div class="c" style="left:437.60px;top:482px;width:65.60px;height:10px"><span class="t">1</span></div>
<div class="c" style="left:503.20px;top:482px;width:76.10px;height:10px"><span class="t">1595 (<i class="r">-30</i>)</span></div>
<div class="c" style="left:579.30px;top:482px;width:75.30px;height:10px"><span class="t">1547 (<i class="r">-29</i>)</span></div>
<div class="c" style="left:60.80px;top:509px;width:73.50px;height:10px"><span class="t"><u>Oldme</u></span></div>
<div class="c" style="left:134.30px;top:499.56px;width:49.00px;height:26.44px"><b class="ri hu_f"></b></div>
<div class="c" style="left:183.30px;top:499.56px;width:54.70px;height:26.44px"><b class="ci gry"></b></div>
<div class="c" style="left:238.00px;top:509px;width:67.20px;height:10px"><span class="t">374315</span></div>
<div class="c" style="left:305.20px;top:509px;width:68.60px;height:10px"><span class="t">389714</span></div>
<div class="c" style="left:373.80px;top:509px;width:63.80px;height:10px"><span class="t">0</span></div>
<div class="c" style="left:437.60px;top:509px;width:65.60px;height:10px"><span class="t">1</span></div>
<div class="c" style="left:503.20px;top:509px;width:76.10px;height:10px"><span class="t">1290 (<i class="r">-14</i>)</span></div>
<div class="c" style="left:579.30px;top:509px;width:75.30px;height:10px"><span class="t">1248 (<i class="r">-22</i>)</span></div>
</body></html>
